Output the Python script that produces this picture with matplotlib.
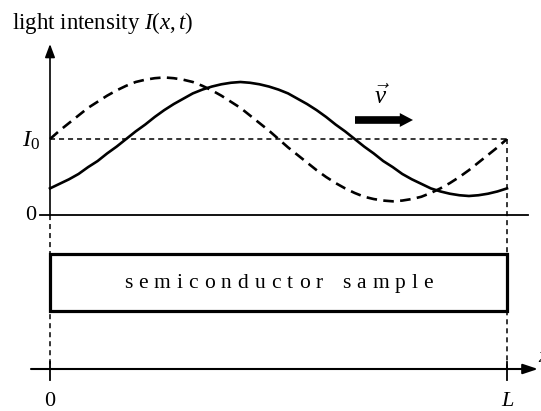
import matplotlib

matplotlib.use("Agg")
import matplotlib.pyplot as plt
from matplotlib import transforms
from matplotlib.patches import FancyArrowPatch, Rectangle

# positions along the sample, in units of L
x_pos = [k / 48 for k in range(49)]
# light intensity in units of I0
intensity_now = [0.35, 0.41, 0.47, 0.54, 0.63, 0.71, 0.81, 0.90, 1.00, 1.10, 1.19, 1.29,
                 1.38, 1.46, 1.53, 1.60, 1.65, 1.69, 1.72, 1.74, 1.75, 1.74, 1.72, 1.69,
                 1.65, 1.60, 1.53, 1.46, 1.38, 1.29, 1.19, 1.10, 1.00, 0.90, 0.81, 0.71,
                 0.63, 0.54, 0.47, 0.41, 0.35, 0.31, 0.28, 0.26, 0.25, 0.26, 0.28, 0.31, 0.35]
intensity_before = [1.00, 1.11, 1.21, 1.31, 1.41, 1.49, 1.57, 1.64, 1.70, 1.75, 1.78, 1.80,
                    1.81, 1.80, 1.78, 1.75, 1.70, 1.64, 1.57, 1.49, 1.41, 1.31, 1.21, 1.11,
                    1.00, 0.89, 0.79, 0.69, 0.59, 0.50, 0.42, 0.35, 0.29, 0.24, 0.21, 0.19,
                    0.18, 0.19, 0.21, 0.24, 0.29, 0.35, 0.42, 0.50, 0.59, 0.69, 0.79, 0.89, 1.00]
axis_labels = ["0", "L"]
sample_label = "semiconductor sample"

plt.rcParams["font.family"] = ["Liberation Serif", "DejaVu Serif"]
plt.rcParams["mathtext.fontset"] = "custom"
plt.rcParams["mathtext.rm"] = "Liberation Serif"
plt.rcParams["mathtext.it"] = "Liberation Serif:italic"

W, H = 541, 411
X0_PX, XL_PX = 50, 507
Y0_PX, YI_PX = 215, 139


def dx(px):
    return (px - X0_PX) / (XL_PX - X0_PX)


def dy(py):
    return (Y0_PX - py) / (Y0_PX - YI_PX)


fig = plt.figure(figsize=(W / 100, H / 100), dpi=100)
ax = fig.add_axes([0, 0, 1, 1])
ax.set_xlim(dx(0), dx(W))
ax.set_ylim(dy(H), dy(0))
ax.axis("off")

k = "black"
thin_dash = (0, (3.3, 2.6))

# curves
ax.plot(x_pos, intensity_now, color=k, lw=1.9, solid_joinstyle="round")
ax.plot(x_pos, intensity_before, color=k, lw=1.9, linestyle=(0, (4, 2.4)))

# I0 level and guide lines
ax.plot([0, 1], [1, 1], color=k, lw=1.1, linestyle=thin_dash)
ax.plot([1, 1], [1, dy(369)], color=k, lw=1.1, linestyle=thin_dash)
ax.plot([0, 0], [0, dy(369)], color=k, lw=1.1, linestyle=thin_dash)

# upper axes
ax.plot([dx(40), dx(528)], [0, 0], color=k, lw=1.3)
ax.add_patch(FancyArrowPatch((0, 0), (0, dy(44)), arrowstyle="-|>,head_length=0.8,head_width=0.3",
                             mutation_scale=10, lw=1.2, color=k, shrinkA=0, shrinkB=0))

# lower axis
ax.add_patch(FancyArrowPatch((dx(31), dy(369)), (dx(538), dy(369)),
                             arrowstyle="-|>,head_length=0.9,head_width=0.3",
                             mutation_scale=10, lw=1.5, color=k, shrinkA=0, shrinkB=0))
for xv in (0, 1):
    ax.plot([xv, xv], [dy(362), dy(380)], color=k, lw=1.3)
for xv, lab in zip((0, 1), axis_labels):
    style = "italic" if lab == "L" else "normal"
    ax.text(xv, dy(401), lab, ha="center", va="center", fontsize=16, style=style)
ax.text(dx(538.5), dy(357), "x", ha="left", va="center", fontsize=15, style="italic")

# sample box
ax.add_patch(Rectangle((0, dy(311)), 1, dy(254) - dy(311), fill=False, lw=2.3, ec=k))
renderer = fig.canvas.get_renderer()
fs = 15.5
widths = []
for ch in sample_label:
    t = ax.text(0, 0, ch if ch != " " else "n", fontsize=fs)
    widths.append(t.get_window_extent(renderer).width * (0.7 if ch == " " else 1.0))
    t.remove()
track = 6.0
total = sum(widths) + track * (len(widths) - 1)
off = -total / 2
for ch, w in zip(sample_label, widths):
    if ch != " ":
        tr = transforms.offset_copy(ax.transData, fig=fig, x=(off + w / 2) * 72 / 100, y=0, units="points")
        ax.text(0.5, dy(283), ch, ha="center", va="center", fontsize=fs, transform=tr)
    off += w + track

# labels
ax.text(dx(12), dy(29), r"light intensity $I(x,t)$", ha="left", va="baseline", fontsize=16.5)
ax.text(dx(40), dy(141), r"$I_0$", ha="right", va="center", fontsize=17.5)
ax.text(dx(36), 0, "0", ha="right", va="center", fontsize=16)

# velocity arrow
ax.add_patch(FancyArrowPatch((dx(355), dy(120)), (dx(413), dy(120)),
                             arrowstyle="simple,tail_width=0.55,head_width=1.0,head_length=0.95",
                             mutation_scale=10, color=k, lw=0, shrinkA=0, shrinkB=0))
ax.text(dx(381), dy(97), r"$\vec{v}$", ha="center", va="center", fontsize=18)

fig.savefig("out.png", dpi=100)
